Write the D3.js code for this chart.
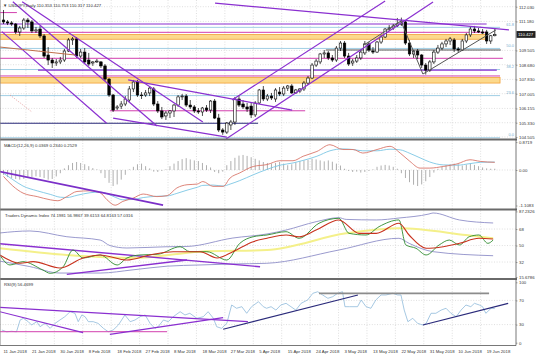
<!DOCTYPE html>
<html><head><meta charset="utf-8">
<script src="https://cdn.jsdelivr.net/npm/d3@7"></script>
<style>
body{margin:0;background:#fff}
svg{display:block}
text{font-family:"Liberation Sans",Arial,sans-serif;fill:#222}
</style>
</head><body>
<svg id="c" width="536" height="358"></svg>
<script>
// ---------------- DATA ----------------
const headerMain = "\u25BC USDJPY,Daily  110.353 110.753 110.317 110.427";
const headerMacd = "MACD(12,26,9) 0.0369 0.2340 0.2529";
const headerTdi = "Traders Dynamic Index 74.1981 56.9867 39.6153 64.8163 57.0316";
const headerRsi = "RSI(9) 56.4699";
const lastPrice = 110.427;

const opens = [111.26,111.15,111.09,111.03,110.57,110.80,111.26,111.15,110.63,110.74,
110.34,109.24,108.95,108.78,108.84,108.95,109.47,110.11,110.17,109.18,
109.41,108.95,108.78,108.84,108.84,108.61,107.85,106.93,106.18,106.29,
106.41,106.64,107.28,107.68,106.93,106.93,107.05,107.28,106.41,106.01,
105.72,105.89,106.01,106.35,106.82,106.87,106.35,106.24,106.01,105.95,
106.18,106.06,106.58,105.60,104.91,104.79,105.20,105.37,106.70,106.41,
106.24,106.29,105.78,106.47,107.22,106.70,106.87,106.70,107.10,106.99,
107.33,107.45,107.05,107.16,107.28,107.62,107.91,108.66,108.84,109.30,
109.36,109.07,108.95,109.64,109.93,109.18,108.78,108.89,109.07,109.36,
109.88,109.47,109.41,109.99,110.28,110.74,110.80,110.92,111.03,111.15,
109.93,109.30,109.47,109.24,108.66,108.37,108.84,109.41,109.64,109.88,
110.05,110.11,109.59,109.53,110.05,110.40,110.74,110.63,110.57,110.57,
110.05,110.353];
const highs = [111.84,111.26,111.20,111.09,110.92,111.38,111.38,111.26,110.86,110.92,
110.45,109.70,109.07,109.01,109.13,109.59,110.22,110.28,110.28,109.59,
109.64,109.36,108.89,109.01,108.89,108.72,107.91,106.99,106.35,106.58,
106.87,107.45,107.80,107.80,107.10,107.22,107.45,107.39,106.58,106.24,
106.01,106.06,106.41,106.93,106.99,106.99,106.64,106.35,106.18,106.24,
106.35,106.64,106.70,105.84,105.02,105.37,105.49,106.82,106.93,106.64,
106.47,106.47,106.58,107.28,107.45,106.99,107.05,107.33,107.39,107.45,
107.51,107.56,107.28,107.33,107.74,108.03,108.78,109.01,109.36,109.53,
109.47,109.24,109.76,110.05,110.05,109.36,109.01,109.24,109.53,110.05,
110.00,109.70,110.05,110.40,110.80,110.97,111.03,111.38,111.40,111.26,
110.11,109.53,109.59,109.30,108.78,108.95,109.53,109.82,110.00,110.17,
110.28,110.22,109.70,110.17,110.51,110.86,110.92,110.80,110.74,110.69,
110.40,110.753];
const lows = [111.03,110.97,110.92,110.45,110.34,110.69,110.80,110.51,110.51,110.22,
109.07,108.66,108.49,108.61,108.72,108.84,109.41,109.82,109.07,109.07,
108.72,108.61,108.61,108.78,108.49,107.74,106.82,105.95,106.06,106.12,
106.29,106.53,107.10,106.82,106.70,106.82,106.87,106.29,105.89,105.54,
105.49,105.60,105.66,106.24,106.64,106.24,106.12,105.89,105.84,105.72,
105.95,105.89,105.54,104.79,104.63,104.68,104.91,105.20,106.24,106.12,
105.95,105.60,105.66,106.41,106.58,106.58,106.64,106.53,106.87,106.87,
107.16,106.99,106.99,107.05,107.16,107.51,107.85,108.55,108.72,109.07,
108.95,108.84,108.84,109.47,109.07,108.61,108.61,108.78,108.95,109.24,
109.41,109.30,109.36,109.88,110.22,110.63,110.69,110.86,110.92,109.82,
109.18,109.07,109.01,108.49,108.11,108.26,108.72,109.30,109.53,109.70,
109.82,109.41,109.36,109.47,109.93,110.28,110.51,110.51,110.45,109.88,
109.88,110.317];
const closes = [111.15,111.09,111.03,110.57,110.80,111.26,111.15,110.63,110.69,110.34,
109.18,108.95,108.78,108.84,108.95,109.47,110.11,110.17,109.18,109.41,
108.84,108.72,108.84,108.89,108.61,107.85,106.93,106.06,106.24,106.41,
106.70,107.28,107.68,106.93,106.93,107.05,107.33,106.41,106.01,105.66,
105.89,106.01,106.35,106.82,106.87,106.35,106.24,106.01,105.95,106.18,
106.06,106.58,105.60,104.91,104.79,105.31,105.37,106.70,106.35,106.24,
106.12,105.78,106.47,107.22,106.70,106.87,106.76,107.22,106.99,107.33,
107.45,107.05,107.22,107.28,107.62,107.91,108.66,108.89,109.30,109.36,
109.07,108.95,109.64,109.93,109.18,108.72,108.89,109.07,109.41,109.88,
109.53,109.41,109.99,110.28,110.74,110.80,110.92,111.03,111.20,109.93,
109.30,109.47,109.24,108.66,108.37,108.84,109.41,109.64,109.88,110.05,
110.17,109.59,109.53,110.05,110.40,110.74,110.63,110.57,110.51,110.05,
110.35,110.427];

const dateLabels = ["11 Jan 2018","21 Jan 2018","30 Jan 2018","8 Feb 2018","18 Feb 2018","27 Feb 2018",
"8 Mar 2018","18 Mar 2018","27 Mar 2018","5 Apr 2018","15 Apr 2018","24 Apr 2018","3 May 2018",
"13 May 2018","22 May 2018","31 May 2018","10 Jun 2018","19 Jun 2018"];
const dateBars = dateLabels.map((d,k)=>k*7);

const priceTicks = [112.030,111.180,109.505,108.680,107.830,107.005,106.155,105.330,104.505];
const macdTicks = [0.8719,0,-1.1083];
const macdTickText = ["0.8719","0.00","-1.1083"];
const tdiTicks = [87.2326,68,50,32,15.6786];
const tdiTickText = ["87.2326","68","50","32","15.6786"];
const rsiTicks = [100,70,30,0];

// MACD histogram, one per bar
const macdHist = [-0.15,-0.22,-0.25,-0.28,-0.3,-0.28,-0.25,-0.22,-0.2,-0.22,-0.25,-0.3,-0.28,-0.2,-0.1,
0.05,0.15,0.22,0.25,0.22,0.18,0.12,0.06,0.02,
-0.1,-0.25,-0.4,-0.5,-0.45,-0.3,-0.15,
0.02,0.1,0.18,0.2,0.12,0.05,
-0.05,-0.06,-0.03,0.02,
0.12,0.2,0.28,0.34,0.37,0.33,0.3,0.28,0.22,0.15,0.08,
-0.06,-0.1,-0.05,
0.15,0.28,0.38,0.45,0.47,0.44,0.4,0.35,0.3,0.25,
0.22,0.2,0.22,0.25,0.2,0.15,0.18,0.24,0.28,0.3,0.32,0.35,0.33,0.3,0.27,0.3,0.26,0.2,0.14,
0.04,-0.03,-0.06,-0.05,-0.08,-0.06,-0.03,0.02,
0.1,0.14,0.16,0.14,0.1,0.04,
-0.1,-0.25,-0.38,-0.46,-0.5,-0.45,-0.35,-0.22,
-0.08,0.04,0.1,0.15,0.18,0.2,0.18,0.14,0.17,0.2,0.16,
0.12,0.08,0.05,0.04,0.04];
// [bar, value]
const macdLine = [[0,-0.2],[2.3,-0.5],[4.8,-0.72],[8.3,-0.83],[11.5,-0.93],[13.4,-0.96],[15.6,-0.83],[18.1,-0.67],[21.3,-0.65],[23.8,-0.71],[25.5,-0.93],[27.5,-1.1],[29.4,-0.98],[31.9,-0.88],[34.4,-0.75],[37.8,-0.83],[40.3,-0.8],[42.7,-0.56],[45.2,-0.46],[47.7,-0.44],[49.1,-0.36],[51.6,-0.51],[54.1,-0.51],[55.8,-0.25],[58.2,-0.09],[61.5,0.11],[64.9,0.17],[68.1,0.29],[71.3,0.29],[73.8,0.43],[77.2,0.58],[80.4,0.79],[83.6,0.64],[86.1,0.64],[88.5,0.53],[92,0.64],[95.2,0.74],[97.7,0.53],[100.1,0.27],[102.6,0.06],[105,0.06],[108.3,0.11],[111.7,0.19],[114.9,0.32],[117.4,0.27],[121,0.24]];
const macdSignal = [[0,-0.1],[2.3,-0.3],[4.8,-0.5],[8.3,-0.65],[11.5,-0.76],[14,-0.85],[15.6,-0.86],[18.1,-0.79],[21.3,-0.71],[23.8,-0.69],[25.5,-0.74],[27.5,-0.85],[29.4,-0.93],[31.9,-0.92],[34.4,-0.86],[37.8,-0.82],[40.3,-0.81],[42.7,-0.73],[45.2,-0.63],[47.7,-0.54],[49.1,-0.48],[51.6,-0.47],[54.1,-0.5],[55.8,-0.44],[58.2,-0.33],[61.5,-0.15],[64.9,0.02],[68.1,0.15],[71.3,0.22],[73.8,0.3],[77.2,0.43],[80.4,0.6],[83.6,0.66],[86.1,0.64],[88.5,0.6],[92,0.6],[95.2,0.65],[97.7,0.63],[100.1,0.52],[102.6,0.38],[105,0.25],[108.3,0.16],[111.7,0.15],[114.9,0.2],[117.4,0.24],[121,0.25]];

const tdiUpper = [[-0.9,63.7],[6.5,65.9],[15.6,59.6],[23.8,56.0],[26.2,50],[30.4,47.3],[40.3,48.7],[45.2,49],[56.5,58.2],[64.9,62.6],[69.6,66.9],[77,76.0],[82.6,80.4],[84.4,78.5],[91.8,77.9],[97.4,80.0],[104.8,84.4],[105.8,85.5],[112.3,77.9],[120.6,74.6]];
const tdiLower = [[-0.9,33],[6.5,27],[13.9,20],[23.8,20],[31.9,23.5],[40.3,27.5],[48.4,28.8],[56.5,29.9],[64.7,30.6],[82.6,45.1],[97.4,57.9],[99.9,52.4],[105.8,43.3],[120.6,38.9]];
const tdiBase = [[-0.9,47.0],[15.6,39.7],[31.9,36.4],[48.4,43.3],[64.9,45.1],[84.4,63.3],[97.4,68.8],[113.9,61.5],[120.6,57.9]];
const tdiSignal = [[-0.9,39.7],[4.1,30.6],[7.3,32.4],[13.9,25.5],[19.6,36.4],[23.8,39.7],[30.4,34.2],[36.1,39.7],[41.8,43.3],[48.4,43.3],[52.6,36.4],[56.5,43.3],[61.5,54.2],[64.9,57.9],[69.6,61.5],[72.8,59.6],[77,66.9],[82.6,77.9],[87.6,63.3],[91.8,63.3],[97.4,74.3],[99.9,61.5],[104.1,47.0],[108.3,48.7],[112.3,52.4],[117.1,57.9],[120.6,57.1]];
const tdiPrice = [[-0.9,39.7],[1.6,28.8],[4.8,32.4],[9.7,23.3],[11.5,19.7],[14.7,26.9],[17.1,45.1],[19.6,36.4],[23.8,39.7],[28,28.8],[30.4,36.4],[33.6,39.7],[38,40.5],[43.5,48.7],[45.9,43.3],[50.1,43.3],[55,34.2],[58.2,52.4],[61.5,59.6],[64.9,61.5],[69.6,65.1],[72.8,57.9],[77.7,74.3],[82.6,79.7],[85.1,63.3],[89.3,61.5],[92.5,70.6],[97.4,77.9],[99.1,50.6],[101.6,47.0],[104.1,39.7],[107.3,50.6],[109.8,56.0],[112.3,50.6],[114.7,59.6],[117.1,61.5],[119.3,52.4],[120.6,56.0]];

const rsiLine = [[-0.4,21],[0.8,18],[2,19],[3.2,18],[4.1,37.6],[4.9,40.4],[6.1,34.8],[6.9,29.3],[8.2,34.8],[9,26.5],[10.2,32],[11.5,23.8],[12.7,32],[13.9,37.6],[15.1,43],[16.4,51.3],[17.6,48.7],[18.4,34.8],[19.3,45.9],[20.1,43],[20.9,34.8],[22.1,34.8],[23.3,32],[24.6,23.8],[25.8,18.2],[27,21],[28.3,29.3],[29.9,45.9],[31.2,34.8],[32.4,37.6],[33.6,43],[34.9,45.9],[36.1,32],[37.3,23.8],[38.1,26.5],[39.4,37.6],[40.6,34.8],[41.8,43],[43.5,51.3],[44.7,45.9],[45.9,48.7],[47.6,40.4],[49.2,43],[50.4,51.3],[51.7,40.4],[52.5,26.5],[53.7,23.8],[55,32],[56.2,62.4],[57.4,57],[58.7,59.6],[59.9,48.7],[61.1,59.6],[62.8,67.9],[64,59.6],[64.8,57],[65.9,59.6],[67.1,54],[68.3,62.4],[69.6,65.2],[70.8,59.6],[72,54],[73.3,65.2],[74.9,70.7],[76.2,81.8],[77.4,84.4],[78.6,79],[79.9,73.5],[81.1,76.2],[82.3,81.8],[83.5,84.4],[84.1,59.6],[85.2,59.6],[87.2,59.6],[88.1,70.7],[89.3,59.6],[90.5,57],[91.7,70.7],[93,79],[94.2,79],[95.9,81.8],[97.1,79],[97.9,79],[98.7,54],[99.6,34.8],[100.8,40.4],[102,32],[103.3,29.3],[104.1,32],[105.3,48.7],[106.5,48.7],[107.8,54],[109,57],[110.2,48.7],[111.5,43],[112.7,54],[113.9,62.4],[115.1,59.6],[116,65.2],[117.2,62.4],[118,59.6],[118.8,48.7],[120.1,57],[121,56.5]];

// price-panel drawings
const hLevels = [ // price, fromBar, toBar, kind
  [111.69,-0.9,3.3,"magenta"],[111.03,-0.9,119,"purple"],[110.55,-0.9,119,"magenta"],
  [109.05,-0.9,123,"magenta"],[108.37,8.5,121.5,"purple"],[108.03,-0.9,122.3,"magenta"],
  [106.02,26.2,74.3,"magenta"],[105.30,-0.9,62.7,"navy"],[109.53,79.4,122.5,"dark"]];
const bands = [[110.43,110.15,-0.9,119],[107.94,107.62,-0.9,122.3]];
const fibLow = 104.46, fibHigh = 114.78;
const fibLevels = [0,23.6,38.2,50,61.8];
const fibText = ["0.0","23.6","38.2","50.0","61.8"];
const priceLines = [ // bar1, price1, bar2, price2, kind
  [-0.4,110.59,25.4,105.30,"purple"],[2.3,112.32,37.8,105.14,"purple"],[4.6,112.32,49.1,105.37,"purple"],
  [30.7,107.80,71.1,106.06,"purple"],[27,105.60,55,104.50,"purple"],[-0.9,109.70,17.6,109.24,"brown"],
  [1.6,106.93,7.0,105.95,"dotted"],[56.3,106.64,94,112.36,"purple"],[54.8,104.39,105.8,112.30,"purple"],
  [52.1,112.24,124.5,110.69,"purple"],[88.8,109.82,97.9,111.20,"dark"],[97.9,111.20,103.3,108.14,"dark"],
  [103.3,108.14,121.3,110.69,"dark"]];
const macdLines = [[-0.9,-0.05,39.3,-1.1,"purpleThick"]];
const tdiLines = [[-0.9,52.0,63.2,26.9,"purple"],[15.6,18.6,45.2,34.2,"purple"]];
const rsiLines = [[-0.9,18.2,40.3,18.2,"magenta"],[-0.9,58.6,60.2,34.8,"purple"],[-0.9,51.3,19.6,16.6,"purple"],
  [26.2,13.9,54.1,41.4,"purple"],[54.1,22.2,87.3,79,"navy"],[77.7,81.8,119.6,81.8,"gray"],[103.3,29.3,124.3,65.2,"navy"]];

// ---------------- STYLE ----------------
const kindStyle = {
  purple:{c:"#8a2fd0",w:1.2}, magenta:{c:"#d23fae",w:1}, navy:{c:"#2a2a7a",w:1.2},
  dark:{c:"#555",w:1}, brown:{c:"#c0704a",w:1}, dotted:{c:"#e08a8a",w:0.8,d:"1,1.5"},
  purpleThick:{c:"#7b2fc8",w:1.8}, gray:{c:"#8c8c8c",w:1.8}
};
const FS = 4.3;
const plotR = 516;

// ---------------- SCALES ----------------
const svg = d3.select("#c");
const x = d3.scaleLinear().domain([0,121]).range([3.5, 3.5+4.06*121]);
const yMain = d3.scaleLinear().domain([104.505,112.030]).range([137,6.7]);
const yMacd = d3.scaleLinear().domain([-1.1083,0.8719]).range([205.5,142.1]);
const yTdi = d3.scaleLinear().domain([15.6786,87.2326]).range([277,211.4]);
const yRsi = d3.scaleLinear().domain([0,100]).range([342.7,282.3]);

const panels = [
  {y:yMain, top:0, bot:139.5, id:"pm"},
  {y:yMacd, top:140.5, bot:208.5, id:"pd"},
  {y:yTdi, top:210.5, bot:278, id:"pt"},
  {y:yRsi, top:280, bot:345, id:"pr"}];
const defs = svg.append("defs");
panels.forEach(p=>{
  defs.append("clipPath").attr("id",p.id).append("rect")
    .attr("x",0).attr("y",p.top).attr("width",plotR).attr("height",p.bot-p.top);
});
svg.append("rect").attr("width",536).attr("height",358).attr("fill","#fff");

// ---------------- GRID ----------------
const grid = svg.append("g").attr("stroke","#c9c9c9").attr("stroke-width",0.6).attr("stroke-dasharray","1,1.6");
dateBars.slice(1).forEach(b=>{
  grid.append("line").attr("x1",x(b)-6).attr("x2",x(b)-6).attr("y1",0).attr("y2",345);
});
function hgrid(scale, vals){
  vals.forEach(v=>grid.append("line").attr("x1",0).attr("x2",plotR).attr("y1",scale(v)).attr("y2",scale(v)));
}
hgrid(yMain, priceTicks); hgrid(yMacd,[0]); hgrid(yTdi,[68,50,32]); hgrid(yRsi,[70,30]);

// ---------------- MAIN PANEL ----------------
const gm = svg.append("g").attr("clip-path","url(#pm)");
bands.forEach(b=>{
  gm.append("rect").attr("x",x(b[2])).attr("width",x(b[3])-x(b[2]))
    .attr("y",yMain(b[0])).attr("height",yMain(b[1])-yMain(b[0]))
    .attr("fill","#fcd98c").attr("stroke","#f2a13a").attr("stroke-width",0.8);
});
fibLevels.forEach((f,k)=>{
  const p = fibLow + (fibHigh-fibLow)*f/100;
  gm.append("line").attr("x1",0).attr("x2",x(122.3)).attr("y1",yMain(p)).attr("y2",yMain(p))
    .attr("stroke","#95c8e2").attr("stroke-width",0.9);
  svg.append("text").attr("x",514).attr("y",yMain(p)-1.5).attr("text-anchor","end")
    .attr("font-size",4).style("fill","#7aaed0").text(fibText[k]);
});
hLevels.forEach(h=>{
  const s = kindStyle[h[3]];
  gm.append("line").attr("x1",x(h[1])).attr("x2",x(h[2])).attr("y1",yMain(h[0])).attr("y2",yMain(h[0]))
    .attr("stroke",s.c).attr("stroke-width",s.w);
});
// candles
const cg = gm.append("g");
closes.forEach((c,i)=>{
  const o=opens[i], h=highs[i], l=lows[i];
  cg.append("line").attr("x1",x(i)).attr("x2",x(i)).attr("y1",yMain(h)).attr("y2",yMain(l))
    .attr("stroke","#000").attr("stroke-width",0.7);
  const top = yMain(Math.max(o,c)), bh = Math.max(0.7, yMain(Math.min(o,c))-top);
  cg.append("rect").attr("x",x(i)-1.25).attr("width",2.5).attr("y",top).attr("height",bh)
    .attr("fill", c>=o ? "#fff" : "#000").attr("stroke","#000").attr("stroke-width",0.6);
});
priceLines.forEach(l=>{
  const s = kindStyle[l[4]];
  gm.append("line").attr("x1",x(l[0])).attr("y1",yMain(l[1])).attr("x2",x(l[2])).attr("y2",yMain(l[3]))
    .attr("stroke",s.c).attr("stroke-width",s.w).attr("stroke-dasharray",s.d||null);
});

// ---------------- MACD ----------------
const gd = svg.append("g").attr("clip-path","url(#pd)");
macdHist.forEach((v,i)=>{
  gd.append("line").attr("x1",x(i)).attr("x2",x(i)).attr("y1",yMacd(0)).attr("y2",yMacd(v))
    .attr("stroke","#a6a6a6").attr("stroke-width",0.9);
});
const lineOf = ys => d3.line().x(d=>x(d[0])).y(d=>ys(d[1])).curve(d3.curveMonotoneX);
gd.append("path").attr("d",lineOf(yMacd)(macdSignal)).attr("fill","none").attr("stroke","#7cc6e4").attr("stroke-width",0.9);
gd.append("path").attr("d",lineOf(yMacd)(macdLine)).attr("fill","none").attr("stroke","#d9776b").attr("stroke-width",0.9);
macdLines.forEach(l=>{
  const s = kindStyle[l[4]];
  gd.append("line").attr("x1",x(l[0])).attr("y1",yMacd(l[1])).attr("x2",x(l[2])).attr("y2",yMacd(l[3]))
    .attr("stroke",s.c).attr("stroke-width",s.w);
});

// ---------------- TDI ----------------
const gt = svg.append("g").attr("clip-path","url(#pt)");
const tl = lineOf(yTdi);
gt.append("path").attr("d",tl(tdiBase)).attr("fill","none").attr("stroke","#f4f08a").attr("stroke-width",2);
gt.append("path").attr("d",tl(tdiUpper)).attr("fill","none").attr("stroke","#8e8ec8").attr("stroke-width",0.9);
gt.append("path").attr("d",tl(tdiLower)).attr("fill","none").attr("stroke","#8e8ec8").attr("stroke-width",0.9);
tdiLines.forEach(l=>{
  const s = kindStyle[l[4]];
  gt.append("line").attr("x1",x(l[0])).attr("y1",yTdi(l[1])).attr("x2",x(l[2])).attr("y2",yTdi(l[3]))
    .attr("stroke",s.c).attr("stroke-width",1.4);
});
gt.append("path").attr("d",tl(tdiPrice)).attr("fill","none").attr("stroke","#2e8b2e").attr("stroke-width",0.9);
gt.append("path").attr("d",tl(tdiSignal)).attr("fill","none").attr("stroke","#c8321e").attr("stroke-width",1.1);

// ---------------- RSI ----------------
const gr = svg.append("g").attr("clip-path","url(#pr)");
gr.append("path").attr("d",d3.line().x(d=>x(d[0])).y(d=>yRsi(d[1]))(rsiLine))
  .attr("fill","none").attr("stroke","#8fbadb").attr("stroke-width",0.8);
rsiLines.forEach(l=>{
  const s = kindStyle[l[4]];
  gr.append("line").attr("x1",x(l[0])).attr("y1",yRsi(l[1])).attr("x2",x(l[2])).attr("y2",yRsi(l[3]))
    .attr("stroke",s.c).attr("stroke-width",s.w);
});

// ---------------- FRAME ----------------
[139.5,209.5,279].forEach(yy=>svg.append("line").attr("x1",0).attr("x2",plotR+1).attr("y1",yy).attr("y2",yy)
  .attr("stroke","#6a6a6a").attr("stroke-width",2));
svg.append("line").attr("x1",plotR).attr("x2",plotR).attr("y1",0).attr("y2",345.5).attr("stroke","#555").attr("stroke-width",0.8);
svg.append("line").attr("x1",0).attr("x2",plotR).attr("y1",345.5).attr("y2",345.5).attr("stroke","#555").attr("stroke-width",0.8);
svg.append("line").attr("x1",0.4).attr("x2",0.4).attr("y1",0).attr("y2",345.5).attr("stroke","#888").attr("stroke-width",0.6);

// ---------------- AXES ----------------
function rightAxis(scale, vals, fmt){
  const g = svg.append("g").attr("transform",`translate(${plotR},0)`)
    .call(d3.axisRight(scale).tickValues(vals).tickSize(1.5).tickPadding(1.5).tickFormat(fmt));
  g.select(".domain").remove();
  g.selectAll("line").attr("stroke","#555").attr("stroke-width",0.5);
  g.selectAll("text").attr("font-size",FS).attr("font-family",'"Liberation Sans",Arial,sans-serif').style("fill","#333");
  return g;
}
rightAxis(yMain, priceTicks, d3.format(".3f"));
rightAxis(yMacd, macdTicks, (d,i)=>macdTickText[i]);
rightAxis(yTdi, tdiTicks, (d,i)=>tdiTickText[i]);
rightAxis(yRsi, rsiTicks, d3.format("d"));

// current price box
const lp = yMain(lastPrice);
svg.append("rect").attr("x",plotR+0.5).attr("y",lp-3.4).attr("width",19).attr("height",6.8).attr("fill","#222");
svg.append("text").attr("x",plotR+2).attr("y",lp).attr("dy","0.35em").attr("font-size",FS)
  .style("fill","#fff").text(d3.format(".3f")(lastPrice));

const bx = svg.append("g").attr("transform","translate(0,345.5)")
  .call(d3.axisBottom(x).tickValues(dateBars).tickSize(0).tickPadding(4.5).tickFormat((d,i)=>dateLabels[i]));
bx.select(".domain").remove();
bx.selectAll("text").attr("font-size",FS).attr("text-anchor","start").attr("dx",-0.5)
  .attr("font-family",'"Liberation Sans",Arial,sans-serif').style("fill","#333");

// ---------------- HEADERS ----------------
[[headerMain,3,6.5],[headerMacd,4,146.5],[headerTdi,5,216.5],[headerRsi,4,286]].forEach(h=>{
  svg.append("text").attr("x",h[1]).attr("y",h[2]).attr("font-size",FS).style("fill","#333").text(h[0]);
});
</script>
</body></html>
